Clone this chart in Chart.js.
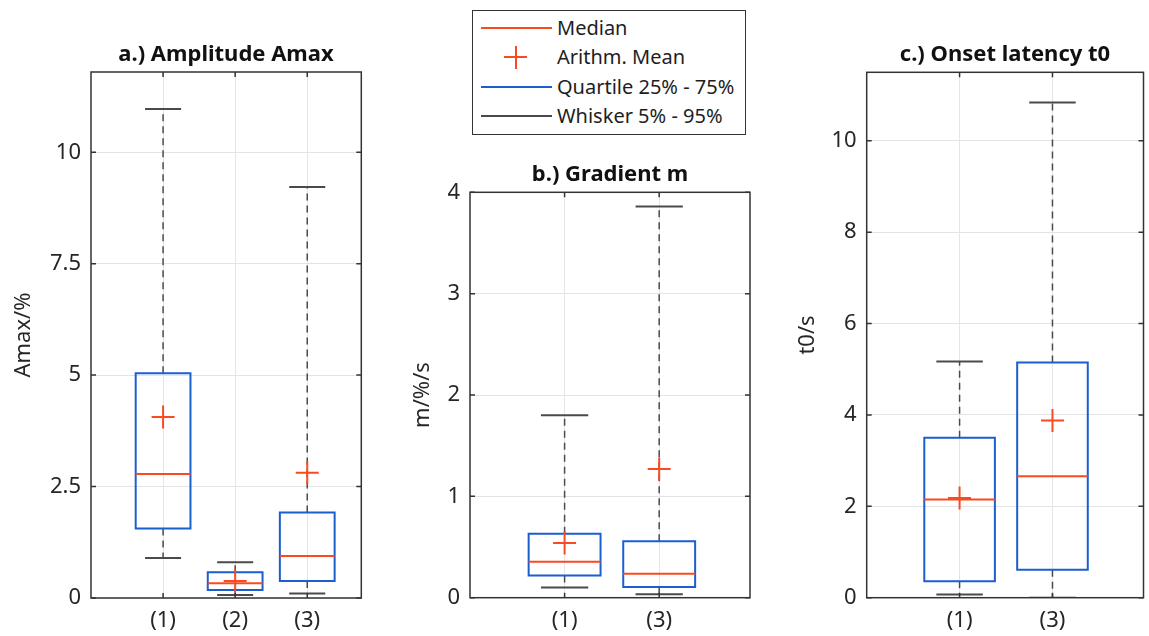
<!DOCTYPE html>
<html>
<head>
<meta charset="utf-8">
<title>Box plots</title>
<script src="https://cdn.jsdelivr.net/npm/chart.js@4.4.0/dist/chart.umd.min.js"></script>
<style>
  body { margin: 0; background: #fff; width: 1149px; height: 636px; overflow: hidden; position: relative; font-family: 'Noto Sans', sans-serif; }
  .panel { position: absolute; top: 0; height: 636px; }
  #legend { position: absolute; left: 472px; top: 10px; width: 274px; height: 125px; border: 1px solid #333; background: #fff; z-index: 2; box-sizing: border-box; }
  #legend .sample { position: absolute; left: 8px; width: 71px; height: 2px; }
  #legend .cross-h { position: absolute; left: 31px; width: 23px; height: 2px; }
  #legend .cross-v { position: absolute; left: 42px; width: 2px; height: 23px; }
  #legend .txt { position: absolute; left: 84px; font-size: 20px; line-height: 24px; color: #1e1e1e; white-space: nowrap; }
</style>
</head>
<body>
<!-- containers are sized so that each canvas is centred on its plot area (title is centred on the canvas) -->
<div class="panel" style="left:0;width:452px"><canvas id="amaxChart"></canvas></div>
<div class="panel" style="left:380px;width:460px"><canvas id="gradChart"></canvas></div>
<div class="panel" style="left:760px;width:490px"><canvas id="t0Chart"></canvas></div>
<div id="legend"></div>
<script>
const RED = '#fa4a22';
const BLUE = '#1b5fcf';
const GRAY = '#4a4a4a';
const AXIS = '#333333';
const GRID = '#e4e4e4';
const TEXT = '#262626';

// a.) Amplitude Amax
const amaxLabels = ['(1)', '(2)', '(3)'];
const amaxPos = [1, 2, 3];
const amaxLow = [0.9, 0.07, 0.1];
const amaxQ1 = [1.56, 0.18, 0.38];
const amaxMedian = [2.78, 0.33, 0.94];
const amaxQ3 = [5.04, 0.58, 1.92];
const amaxHigh = [10.97, 0.8, 9.22];
const amaxMean = [4.06, 0.38, 2.81];

// b.) Gradient m
const gradLabels = ['(1)', '(3)'];
const gradPos = [1, 2];
const gradLow = [0.1, 0.035];
const gradQ1 = [0.22, 0.105];
const gradMedian = [0.355, 0.237];
const gradQ3 = [0.63, 0.556];
const gradHigh = [1.8, 3.86];
const gradMean = [0.54, 1.27];

// c.) Onset latency t0
const t0Labels = ['(1)', '(3)'];
const t0Pos = [1, 2];
const t0Low = [0.07, 0];
const t0Q1 = [0.36, 0.61];
const t0Median = [2.15, 2.66];
const t0Q3 = [3.5, 5.15];
const t0High = [5.17, 10.84];
const t0Mean = [2.18, 3.88];

const legendLabels = ['Median', 'Arithm. Mean', 'Quartile 25% - 75%', 'Whisker 5% - 95%'];

function seg(points, color, width, dash, order) {
  return {
    data: points, showLine: true, borderColor: color, borderWidth: width,
    borderDash: dash || [], pointRadius: 0, order: order, fill: false
  };
}

function boxDatasets(pos, lo, q1, med, q3, hi, mean) {
  const hw = 0.38, cw = 0.25;
  const out = [];
  pos.forEach((x, i) => {
    out.push(seg([{x: x, y: q3[i]}, {x: x, y: hi[i]}], GRAY, 1.5, [7, 5], 5));
    out.push(seg([{x: x, y: q1[i]}, {x: x, y: lo[i]}], GRAY, 1.5, [7, 5], 5));
    out.push(seg([{x: x - cw, y: hi[i]}, {x: x + cw, y: hi[i]}], GRAY, 2, null, 4));
    out.push(seg([{x: x - cw, y: lo[i]}, {x: x + cw, y: lo[i]}], GRAY, 2, null, 4));
    const box = seg([
      {x: x - hw, y: q1[i]}, {x: x + hw, y: q1[i]}, {x: x + hw, y: q3[i]},
      {x: x - hw, y: q3[i]}, {x: x - hw, y: q1[i]}
    ], BLUE, 2, null, 3);
    box.borderCapStyle = 'square';
    out.push(box);
    out.push(seg([{x: x - hw, y: med[i]}, {x: x + hw, y: med[i]}], RED, 2, null, 2));
  });
  out.push({
    data: pos.map((x, i) => ({x: x, y: mean[i]})),
    showLine: false, pointStyle: 'cross', pointRadius: 11.5,
    borderColor: RED, borderWidth: 2, order: 1
  });
  return out;
}

// frame around the plot area with inward tick marks
const frame = {
  id: 'frame',
  afterDraw(chart) {
    const {ctx, chartArea: a, scales} = chart;
    ctx.save();
    ctx.strokeStyle = AXIS;
    ctx.lineWidth = 1.5;
    ctx.strokeRect(a.left, a.top, a.right - a.left, a.bottom - a.top);
    ctx.beginPath();
    scales.y.ticks.forEach(t => {
      const py = scales.y.getPixelForValue(t.value);
      ctx.moveTo(a.left, py); ctx.lineTo(a.left + 5, py);
      ctx.moveTo(a.right, py); ctx.lineTo(a.right - 5, py);
    });
    scales.x.ticks.forEach(t => {
      const px = scales.x.getPixelForValue(t.value);
      ctx.moveTo(px, a.bottom); ctx.lineTo(px, a.bottom - 5);
      ctx.moveTo(px, a.top); ctx.lineTo(px, a.top + 5);
    });
    ctx.stroke();
    ctx.restore();
  }
};

const tickFont = { family: 'Noto Sans', size: 22 };

function makePanel(id, p) {
  return new Chart(document.getElementById(id), {
    type: 'scatter',
    data: { datasets: boxDatasets(p.pos, p.low, p.q1, p.median, p.q3, p.high, p.mean) },
    options: {
      responsive: true,
      maintainAspectRatio: false,
      animation: false,
      events: [],
      layout: { padding: 0 },
      plugins: {
        legend: { display: false },
        tooltip: { enabled: false },
        title: {
          display: true, text: p.title, color: '#111',
          font: { family: 'Noto Sans', size: 22, weight: 'bold', lineHeight: 1.2 },
          padding: { top: p.titleTop, bottom: p.titleBottom }
        }
      },
      scales: {
        x: {
          type: 'linear', min: 0, max: p.xMax,
          afterBuildTicks: s => { s.ticks = p.pos.map(v => ({ value: v })); },
          afterFit: s => { s.height = p.xHeight; },
          ticks: { callback: (v, i) => p.labels[i], font: tickFont, color: TEXT, padding: 10 },
          grid: { color: GRID, drawTicks: false },
          border: { display: false }
        },
        y: {
          min: 0, max: p.yMax,
          afterFit: s => { s.width = p.yWidth; },
          ticks: { stepSize: p.yStep, includeBounds: false, font: tickFont, color: TEXT, padding: 10 },
          title: {
            display: true, text: p.yTitle, color: TEXT,
            font: { family: 'Noto Sans', size: 22, lineHeight: 1.2 },
            padding: { top: p.yTitlePad, bottom: 0 }
          },
          grid: { color: GRID, drawTicks: false },
          border: { display: false }
        },
        // empty right-hand spacer so the title stays centred over the plot area
        ySpace: {
          axis: 'y', position: 'right', min: 0, max: 1,
          afterFit: s => { s.width = p.padRight; },
          ticks: { display: false },
          grid: { display: false },
          border: { display: false }
        }
      }
    },
    plugins: [frame]
  });
}

makePanel('amaxChart', {
  labels: amaxLabels, pos: amaxPos, low: amaxLow, q1: amaxQ1, median: amaxMedian,
  q3: amaxQ3, high: amaxHigh, mean: amaxMean,
  title: 'a.) Amplitude Amax', yTitle: 'Amax/%',
  xMax: 3.75, yMax: 11.8, yStep: 2.5,
  titleTop: 41.8, titleBottom: 3.8, yWidth: 91, padRight: 90.7, xHeight: 38, yTitlePad: 10.8
});

makePanel('gradChart', {
  labels: gradLabels, pos: gradPos, low: gradLow, q1: gradQ1, median: gradMedian,
  q3: gradQ3, high: gradHigh, mean: gradMean,
  title: 'b.) Gradient m', yTitle: 'm/%/s',
  xMax: 2.96, yMax: 4, yStep: 1,
  titleTop: 161.8, titleBottom: 4.1, yWidth: 90, padRight: 90, xHeight: 38.3, yTitlePad: 29.8
});

makePanel('t0Chart', {
  labels: t0Labels, pos: t0Pos, low: t0Low, q1: t0Q1, median: t0Median,
  q3: t0Q3, high: t0High, mean: t0Mean,
  title: 'c.) Onset latency t0', yTitle: 't0/s',
  xMax: 2.98, yMax: 11.5, yStep: 2,
  titleTop: 41.8, titleBottom: 4.1, yWidth: 106.7, padRight: 106.5, xHeight: 38.3, yTitlePad: 34.8
});

// legend box
const legend = document.getElementById('legend');
const legendColors = [RED, RED, BLUE, GRAY];
legendLabels.forEach((label, i) => {
  const cy = 17 + i * 29.3;
  if (i === 1) {
    const h = document.createElement('div');
    h.className = 'cross-h';
    h.style.top = (cy - 1) + 'px';
    h.style.background = legendColors[i];
    const v = document.createElement('div');
    v.className = 'cross-v';
    v.style.top = (cy - 11.5) + 'px';
    v.style.background = legendColors[i];
    legend.appendChild(h);
    legend.appendChild(v);
  } else {
    const s = document.createElement('div');
    s.className = 'sample';
    s.style.top = (cy - 1) + 'px';
    s.style.background = legendColors[i];
    legend.appendChild(s);
  }
  const t = document.createElement('div');
  t.className = 'txt';
  t.style.top = (cy - 12) + 'px';
  t.textContent = label;
  legend.appendChild(t);
});
</script>
</body>
</html>
